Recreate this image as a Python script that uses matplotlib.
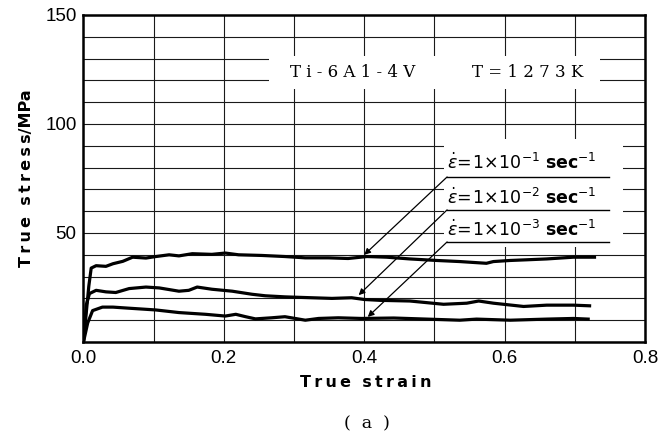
import matplotlib
matplotlib.use("Agg")
import matplotlib.pyplot as plt
from matplotlib.patches import Rectangle

# curve for strain rate 1e-1 sec^-1
strain_1 = [0.0, 0.0076, 0.011, 0.018, 0.032, 0.042, 0.056, 0.07, 0.089, 0.103, 0.122,
            0.136, 0.155, 0.183, 0.202, 0.221, 0.254, 0.287, 0.316, 0.349, 0.377, 0.404,
            0.432, 0.465, 0.503, 0.536, 0.574, 0.584, 0.608, 0.631, 0.66, 0.698, 0.728]
stress_1 = [0.0, 25.6, 33.9, 35.0, 34.7, 35.9, 37.0, 38.9, 38.5, 39.2, 40.0,
            39.5, 40.5, 40.2, 40.8, 40.0, 39.7, 39.2, 38.6, 38.6, 38.3, 39.2,
            38.9, 38.1, 37.4, 36.9, 36.1, 36.9, 37.4, 37.7, 38.1, 38.9, 38.9]

# 1e-2 sec^-1
strain_2 = [0.0, 0.004, 0.0085, 0.018, 0.032, 0.046, 0.065, 0.089, 0.108, 0.136, 0.15,
            0.162, 0.183, 0.212, 0.24, 0.259, 0.287, 0.325, 0.354, 0.382, 0.4, 0.423,
            0.465, 0.513, 0.546, 0.563, 0.584, 0.627, 0.66, 0.698, 0.721]
stress_2 = [0.0, 17.0, 22.2, 23.7, 23.0, 22.7, 24.5, 25.2, 24.8, 23.3, 23.7,
            25.2, 24.2, 23.3, 21.9, 21.2, 20.7, 20.3, 20.0, 20.3, 19.5, 19.1,
            18.8, 17.3, 17.8, 18.8, 17.8, 16.3, 16.9, 16.9, 16.6]

# 1e-3 sec^-1
strain_3 = [0.0, 0.006, 0.013, 0.027, 0.042, 0.065, 0.103, 0.136, 0.174, 0.202, 0.217,
            0.231, 0.245, 0.268, 0.287, 0.316, 0.335, 0.363, 0.396, 0.442, 0.489, 0.536,
            0.56, 0.608, 0.66, 0.698, 0.719]
stress_3 = [0.0, 8.7, 14.4, 16.0, 16.0, 15.5, 14.7, 13.5, 12.7, 11.9, 12.7,
            11.6, 10.6, 11.1, 11.6, 10.0, 10.8, 11.1, 10.8, 11.0, 10.5, 10.0,
            10.5, 10.0, 10.5, 10.8, 10.5]

rate_labels = [r"$\dot{\varepsilon}\!=\!1\!\times\!10^{-1}\ \mathbf{sec}^{-1}$",
               r"$\dot{\varepsilon}\!=\!1\!\times\!10^{-2}\ \mathbf{sec}^{-1}$",
               r"$\dot{\varepsilon}\!=\!1\!\times\!10^{-3}\ \mathbf{sec}^{-1}$"]
label_y = [82.1, 66.0, 51.4]
underline_y = [75.7, 60.6, 45.9]
arrow_tip = [(0.400, 40.0), (0.392, 21.5), (0.405, 11.5)]

x_ticks = [0.0, 0.2, 0.4, 0.6, 0.8]
y_ticks = [50, 100, 150]

fig = plt.figure(figsize=(6.71, 4.37), dpi=100)
ax = fig.add_axes([0.1244, 0.2174, 0.9613 - 0.1244, 0.9657 - 0.2174])
ax.set_xlim(0, 0.8)
ax.set_ylim(0, 150)

ax.set_xticks(x_ticks)
ax.set_xticklabels(["%.1f" % v for v in x_ticks])
ax.set_yticks(y_ticks)
ax.set_xticks([i / 10 for i in range(9)], minor=True)
ax.set_yticks(list(range(0, 151, 10)), minor=True)
ax.tick_params(which="both", length=0)
ax.tick_params(axis="x", pad=6)
ax.tick_params(axis="y", pad=5)
for lab in ax.get_xticklabels() + ax.get_yticklabels():
    lab.set_family("Liberation Sans")
    lab.set_fontsize(13.5)

ax.set_axisbelow(True)
ax.grid(which="both", color="#1a1a1a", lw=0.8)
for s in ax.spines.values():
    s.set_linewidth(1.8)

# white areas behind the texts hide the grid
ax.add_patch(Rectangle((0.265, 116), 0.736 - 0.265, 131 - 116,
                       facecolor="white", edgecolor="none", zorder=1))
ax.add_patch(Rectangle((0.514, 43.5), 0.768 - 0.514, 93 - 43.5,
                       facecolor="white", edgecolor="none", zorder=1))

ax.plot(strain_1, stress_1, color="black", lw=2.3, zorder=3)
ax.plot(strain_2, stress_2, color="black", lw=2.3, zorder=3)
ax.plot(strain_3, stress_3, color="black", lw=2.3, zorder=3)

ax.text(0.383, 123.4, "T i - 6 A 1 - 4 V", family="DejaVu Serif", fontsize=12,
        ha="center", va="center", zorder=4)
ax.text(0.633, 123.4, "T = 1 2 7 3 K", family="DejaVu Serif", fontsize=12,
        ha="center", va="center", zorder=4)

for lab, ly, uy, tip in zip(rate_labels, label_y, underline_y, arrow_tip):
    ax.text(0.518, ly, lab, fontsize=12.5, ha="left", va="center", zorder=4)
    ax.plot([0.518, 0.749], [uy, uy], color="black", lw=1.0, zorder=4)
    ax.annotate("", xy=tip, xytext=(0.518, uy),
                arrowprops=dict(arrowstyle="-|>", color="black", lw=0.9,
                                mutation_scale=9, shrinkA=0, shrinkB=0),
                zorder=4)

fig.text(0.545, 0.1236, "T\u2009r\u2009u\u2009e  s\u2009t\u2009r\u2009a\u2009i\u2009n",
         fontsize=11.5, fontweight="bold", ha="center", va="center")
fig.text(0.040, 0.5915, "T\u2009r\u2009u\u2009e  s\u2009t\u2009r\u2009e\u2009s\u2009s/MPa",
         fontsize=11.5, fontweight="bold", rotation=90, ha="center", va="center")
fig.text(0.547, 0.029, "(  a  )", family="DejaVu Serif", fontsize=12.5,
         ha="center", va="center")

fig.savefig("out.png", dpi=100)
